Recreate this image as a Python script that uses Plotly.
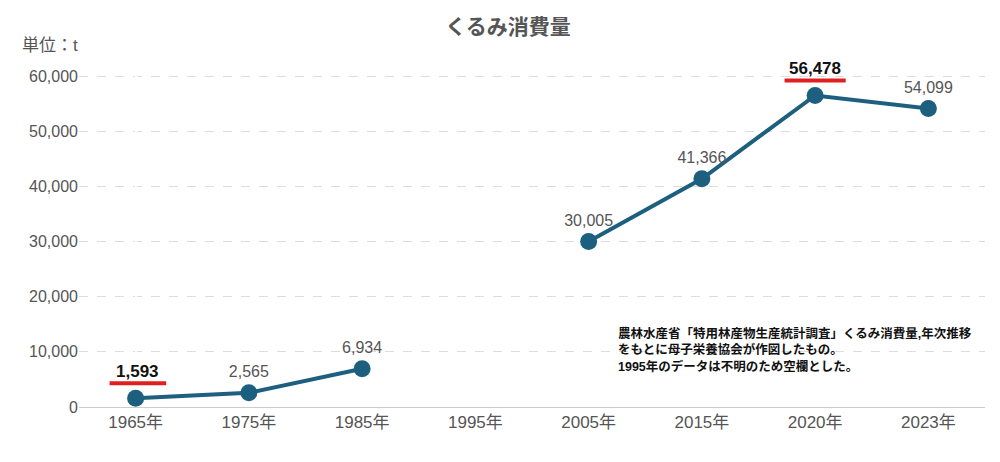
import plotly.graph_objects as go

years = ["1965年", "1975年", "1985年", "1995年", "2005年", "2015年", "2020年", "2023年"]
values = [1593, 2565, 6934, None, 30005, 41366, 56478, 54099]
highlight = [True, False, False, False, False, False, True, False]

labels = ["" if v is None or h else f"{v:,}" for v, h in zip(values, highlight)]

fig = go.Figure()
fig.add_trace(go.Scatter(
    x=list(range(len(years))), y=values, mode="lines+markers+text",
    line=dict(color="#1d5f7e", width=4), marker=dict(size=17, color="#1d5f7e"),
    text=labels, textposition="top center", textfont=dict(size=16, color="#555"),
    connectgaps=False, cliponaxis=False, hoverinfo="skip"))

for i, (v, h) in enumerate(zip(values, highlight)):
    if h:
        fig.add_annotation(x=i, y=v, text=f"<b>{v:,}</b>", showarrow=False,
                           yshift=35, font=dict(size=17, color="#111"))
        fig.add_shape(type="line", xref="x", yref="y", x0=i - 0.5, x1=i, y0=v, y1=v,
                      line=dict(color="#e02020", width=4))
fig.layout.shapes[0].update(y0=4300, y1=4300, x0=-0.23, x1=0.27)
fig.layout.shapes[1].update(y0=59200, y1=59200, x0=5.73, x1=6.27)
fig.layout.annotations[0].update(x=0.02, y=4300, yshift=12)
fig.layout.annotations[1].update(x=6, y=59200, yshift=12)

fig.add_annotation(xref="paper", yref="paper", x=-0.065, y=1, xanchor="left", yanchor="bottom",
                   yshift=8, text="単位：t", showarrow=False, font=dict(size=17, color="#555"))
fig.add_annotation(x=4.24, y=15000, xanchor="left", yanchor="top", align="left",
                   text="<b>農林水産省「特用林産物生産統計調査」くるみ消費量,年次推移<br>をもとに母子栄養協会が作図したもの。<br>1995年のデータは不明のため空欄とした。</b>",
                   showarrow=False, font=dict(size=12.5, color="#111"))

fig.update_layout(
    width=1000, height=462, margin=dict(l=71, r=23, t=57, b=63),
    paper_bgcolor="white", plot_bgcolor="white", showlegend=False,
    font=dict(family="Liberation Sans, Noto Sans CJK JP"),
    title=dict(text="<b>くるみ消費量</b>", x=0.5, y=0.975, yanchor="top",
               font=dict(size=21, color="#555", family="Noto Sans CJK JP")),
    xaxis=dict(tickmode="array", tickvals=list(range(len(years))), ticktext=years,
               range=[-0.5, 7.5], showgrid=False, showline=True, linecolor="#ccc",
               tickfont=dict(size=17, color="#555"), ticks=""),
    yaxis=dict(range=[0, 62000], tickvals=[0, 10000, 20000, 30000, 40000, 50000, 60000],
               tickformat=",", showgrid=True, gridcolor="#ddd", griddash="dash",
               zeroline=False, tickfont=dict(size=16, color="#555")),
)
fig.write_html("out.html")
